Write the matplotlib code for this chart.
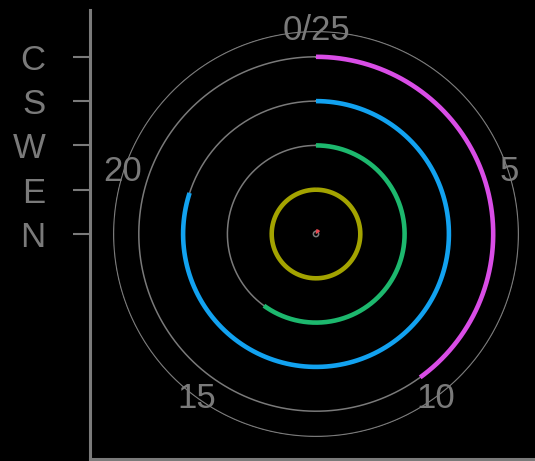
import numpy as np
import matplotlib.pyplot as plt

plt.rcParams['font.family'] = ['Liberation Sans', 'DejaVu Sans']

categories = ['N', 'E', 'W', 'S', 'C']
values = [4, 25, 15, 20, 10]
colors = ['#e8464f', '#a3a300', '#1db86e', '#12a2f0', '#d94de6']
theta_ticks = [0, 5, 10, 15, 20]
theta_labels = ['0/25', '5', '10', '15', '20']
vmax = 25

W, H = 535, 461
fig = plt.figure(figsize=(W / 100, H / 100), dpi=100, facecolor='black')
gray = '#7a7a7a'

# polar part: centre (316, 234), outer radius 203 px, 44.3 px per category
cx, cy, R = 316, 234, 203
step = 44.3
rmax = R / step
ax = fig.add_axes([(cx - R) / W, (H - cy - R) / H, 2 * R / W, 2 * R / H],
                  projection='polar')
ax.set_facecolor('none')
ax.set_theta_zero_location('N')
ax.set_theta_direction(-1)
ax.set_ylim(0, rmax)
ax.grid(False)
ax.spines['polar'].set_visible(False)
ax.set_xticks([])
ax.set_yticks([])

th = np.linspace(0, 2 * np.pi, 400)
for i in range(len(categories)):
    r = max(i, 0.06)
    ax.plot(th, np.full_like(th, r), color=gray, lw=1.1)
ax.plot(th, np.full_like(th, rmax - 0.01), color=gray, lw=1.1)

for i, (v, c) in enumerate(zip(values, colors)):
    r = max(i, 0.06)
    t = np.linspace(0, 2 * np.pi * v / vmax, 300)
    ax.plot(t, np.full_like(t, r), color=c, lw=3.3, solid_capstyle='butt')

for tv, tl in zip(theta_ticks, theta_labels):
    ax.text(2 * np.pi * tv / vmax, rmax, tl, color=gray, fontsize=25,
            ha='center', va='center')

# left axis with category labels
x0, y_top, y_bot = 90, 10, 459
ay = fig.add_axes([x0 / W, (H - y_bot) / H, (W - x0) / W, (y_bot - y_top) / H])
ay.set_facecolor('none')
ay.set_ylim((cy - y_bot) / step, (cy - y_top) / step)
ay.set_xlim(0, 1)
ay.set_xticks([])
ay.set_yticks(range(len(categories)))
ay.set_yticklabels(categories)
ay.tick_params(axis='y', colors=gray, labelsize=25, length=12, width=1.5, pad=20)
for s in ['top', 'right']:
    ay.spines[s].set_visible(False)
for s in ['left', 'bottom']:
    ay.spines[s].set_color(gray)
    ay.spines[s].set_linewidth(2.2)

fig.savefig('out.png', dpi=100, facecolor='black')
